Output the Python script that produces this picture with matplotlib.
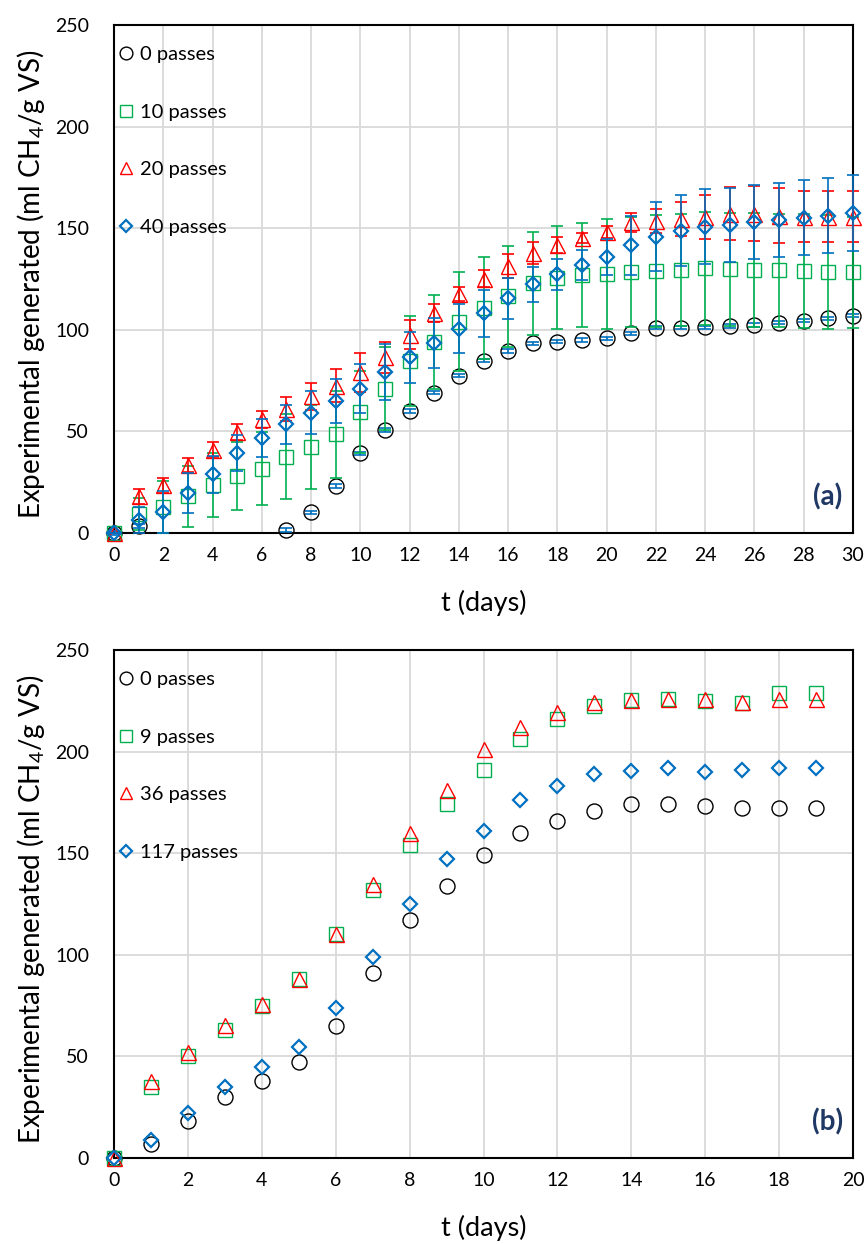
import numpy as np
import matplotlib
matplotlib.use("Agg")
import matplotlib.pyplot as plt

plt.rcParams['font.family'] = ['Lato', 'DejaVu Sans']
plt.rcParams['mathtext.fontset'] = 'custom'
plt.rcParams['mathtext.rm'] = 'Lato'
plt.rcParams['mathtext.it'] = 'Lato:italic'

# ---- data, panel (a) ----
t_a = list(range(0, 31))
nan = np.nan
p0_a = [0, 3.4, nan, nan, nan, nan, nan, 1.5, 10.2, 23.1, 39.2, 50.7, 60, 69, 77.4, 84.8, 89.6,
        93.3, 94.2, 95, 95.8, 98.3, 101, 101, 101.2, 101.9, 102.4, 103.5, 104.5, 105.6, 106.9]
p0_a_err = [0.8] * 31
p10_a = [0, 9.3, 12.8, 18.1, 23.5, 28, 31.6, 37.6, 42.5, 48.6, 59.5, 71, 84.6, 94, 104, 110.6,
         116.4, 122.9, 125.6, 127, 127.5, 128.5, 129, 129.5, 130.2, 129.7, 129.4, 129.2, 128.9, 128.4, 128.2]
p10_a_err = [0, 8, 13, 15, 15.8, 16.7, 18, 21, 20.7, 21.4, 20.3, 20.5, 22, 23.2, 24.5, 25, 25,
             25.4, 25.3, 25.5, 27, 27, 27.5, 27.5, 28, 28, 28, 28, 28, 28, 27.5]
p20_a = [0, 18, 23.4, 33.5, 41, 49.8, 55.9, 61.2, 67.3, 72.4, 79, 86.4, 97.6, 108.1, 117.6, 125.2,
         131.3, 137.9, 141.7, 145.3, 148.2, 153, 153.6, 154.4, 155.5, 157.2, 157.2, 156.1, 155.7, 155.7, 155.7]
p20_a_err = [0, 3.7, 3.6, 3.5, 3.6, 4, 4.3, 5.9, 6.7, 8.1, 9.4, 7.8, 7, 4.5, 3.5, 4, 5.8, 5.5, 4,
             2.5, 3, 4.7, 6, 8.3, 10.6, 13, 13.5, 13.5, 12.6, 12.7, 12.7]
p40_a = [0, 6.6, 10.5, 19.7, 28.8, 39.4, 46.7, 53.6, 59.3, 65, 71.1, 79.2, 86.4, 93.5, 100.5, 108.1,
         115.5, 122.4, 127.3, 131.9, 135.9, 141.5, 145.8, 148.8, 150.7, 151.6, 153.2, 154, 155.2, 156.2, 157.3]
p40_a_err = [0, 6.4, 10.3, 10, 9, 9, 9.4, 9.6, 10.5, 11, 11.9, 13.7, 12.5, 12.5, 12, 11.7, 10, 8.5,
             7.5, 7.4, 8.7, 14.3, 16.9, 17.6, 18.4, 18.4, 18.3, 18.3, 18.3, 18.3, 18.7]

# ---- data, panel (b) ----
t_b = list(range(0, 20))
p0_b = [0, 7, 18, 30, 38, 47, 65, 91, 117, 134, 149, 160, 166, 171, 174, 174, 173, 172, 172, 172]
p9_b = [0, 35, 50, 63, 75, 88, 110, 132, 154, 174, 191, 206, 216, 222.5, 225.5, 226, 225, 224, 229, 229]
p36_b = [0, 38, 52, 65.5, 76, 88, 110, 135, 160, 181, 201.5, 212, 219.5, 224.5, 225.5, 226, 226, 224.5, 226, 226]
p117_b = [0, 9, 22, 35, 45, 54.5, 74, 99, 125, 147, 161, 176, 183, 189, 190.5, 192, 190, 191, 192, 192]

labels_a = ["0 passes", "10 passes", "20 passes", "40 passes"]
labels_b = ["0 passes", "9 passes", "36 passes", "117 passes"]

BLACK, GREEN, RED, BLUE = "#000000", "#00B050", "#FF0000", "#0070C0"
styles = [("o", 10.8, BLACK, 1.0), ("s", 10.5, GREEN, 1.0), ("^", 10.8, RED, 1.0), ("D", 7.6, BLUE, 1.6)]

W, H = 866, 1244
fig = plt.figure(figsize=(W / 100, H / 100), dpi=100)
ax1 = fig.add_axes([114 / W, 1 - 533 / H, (853 - 114) / W, (533 - 25) / H])
ax2 = fig.add_axes([114 / W, 1 - 1158 / H, (853 - 114) / W, (1158 - 650) / H])


def style_axes(ax, xmax, tag):
    ax.set_xlim(0, xmax)
    ax.set_ylim(0, 250)
    ax.set_xticks(range(0, xmax + 1, 2))
    ax.set_yticks(range(0, 251, 50))
    ax.grid(True, color="#D9D9D9", lw=1.3)
    ax.set_axisbelow(True)
    ax.tick_params(length=0, labelsize=14, pad=10)
    ax.tick_params(axis="y", pad=18)
    for sp in ax.spines.values():
        sp.set_color("black")
        sp.set_linewidth(1.5)
    ax.set_xlabel("t (days)", fontsize=19.5)
    ax.set_ylabel("Experimental generated (ml CH$_4$/g VS)", fontsize=20)
    ax.xaxis.set_label_coords(0.5, -0.112)
    ax.yaxis.set_label_coords(-0.091, 0.49)
    ax.text(0.965, 0.071, tag, transform=ax.transAxes, ha="center", va="center",
            fontsize=20, fontweight="bold", color="#1F3864")


# panel (a) with error bars
series_a = [(p0_a, p0_a_err), (p10_a, p10_a_err), (p20_a, p20_a_err), (p40_a, p40_a_err)]
for i, ((y, e), (m, ms, c, mw)) in enumerate(zip(series_a, styles)):
    ecol = BLUE if i == 0 else c
    ax1.errorbar(t_a, y, yerr=e, fmt="none", ecolor=ecol, elinewidth=1.2, capsize=4, capthick=1.2,
                 zorder=3 + i, clip_on=False)
    ax1.plot(t_a, y, ls="none", marker=m, ms=ms, mfc="none", mec=c, mew=mw, label=labels_a[i],
             zorder=3 + i, clip_on=False)

# panel (b)
series_b = [p0_b, p9_b, p36_b, p117_b]
for i, (y, (m, ms, c, mw)) in enumerate(zip(series_b, styles)):
    ax2.plot(t_b, y, ls="none", marker=m, ms=ms, mfc="none", mec=c, mew=mw, label=labels_b[i],
             zorder=3 + i, clip_on=False)

style_axes(ax1, 30, "(a)")
style_axes(ax2, 20, "(b)")

for ax in (ax1, ax2):
    ax.legend(loc="upper left", bbox_to_anchor=(0.006, 0.958), frameon=False, fontsize=14.5,
              handlelength=0.8, handletextpad=0.25, labelspacing=2.0, borderaxespad=0,
              borderpad=0, markerscale=0.85)

fig.savefig("out.png", dpi=100)
